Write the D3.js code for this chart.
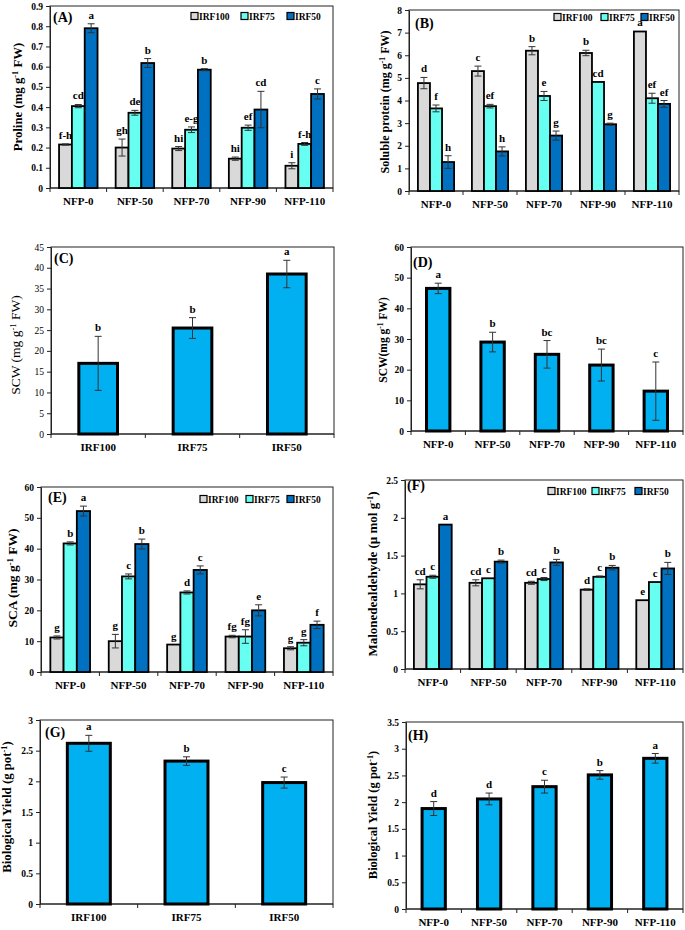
<!DOCTYPE html>
<html>
<head>
<meta charset="utf-8">
<script src="https://cdn.jsdelivr.net/npm/d3@7"></script>
<style>
  body { margin: 0; background: #fff; }
  svg { display: block; }
  text { font-family: "Liberation Serif", "Times New Roman", serif; }
</style>
</head>
<body>
<svg id="chart" width="685" height="930"></svg>
<script>
const nfp = ["NFP-0", "NFP-50", "NFP-70", "NFP-90", "NFP-110"];
const irf = ["IRF100", "IRF75", "IRF50"];
const irfColors = ["#d9d9d9", "#66fff2", "#0070c0"];
const singleColor = "#00b0f0";

// (A) proline, rows = IRF100, IRF75, IRF50
const prolineMean = [[0.215, 0.20, 0.195, 0.145, 0.11], [0.405, 0.372, 0.288, 0.298, 0.218], [0.79, 0.618, 0.585, 0.388, 0.465]];
const prolineErr = [[0.003, 0.042, 0.01, 0.008, 0.015], [0.008, 0.012, 0.014, 0.013, 0.007], [0.022, 0.022, 0.005, 0.09, 0.025]];
const prolineLet = [["f-h", "gh", "hi", "hi", "i"], ["cd", "de", "e-g", "ef", "f-h"], ["a", "b", "b", "cd", "c"]];

// (B) soluble protein
const proteinMean = [[4.77, 5.3, 6.2, 6.1, 7.05], [3.65, 3.75, 4.2, 4.82, 4.1], [1.28, 1.75, 2.45, 2.95, 3.85]];
const proteinErr = [[0.25, 0.22, 0.18, 0.12, 0], [0.15, 0.08, 0.2, 0, 0.22], [0.28, 0.2, 0.2, 0.05, 0.15]];
const proteinLet = [["d", "c", "b", "b", "a"], ["f", "ef", "e", "cd", "ef"], ["h", "h", "g", "g", "ef"]];

// (C) SCW by irrigation
const scwIrfMean = [[17, 25.5, 38.5]];
const scwIrfErr = [[6.5, 2.5, 3.3]];
const scwIrfLet = [["b", "b", "a"]];

// (D) SCW by nitrogen
const scwNfpMean = [[46.5, 29, 25, 21.5, 13]];
const scwNfpErr = [[1.7, 3.2, 4.5, 5.2, 9.5]];
const scwNfpLet = [["a", "b", "bc", "bc", "c"]];

// (E) SCA
const scaMean = [[11.2, 10, 8.9, 11.5, 7.7], [41.7, 31, 25.8, 11.5, 9.5], [52.2, 41.5, 33.1, 20, 15.3]];
const scaErr = [[0.5, 2.2, 0, 0.4, 0.5], [0.5, 0.8, 0.5, 2.2, 1], [1.6, 1.6, 1.3, 1.8, 1.2]];
const scaLet = [["g", "g", "g", "fg", "g"], ["b", "c", "d", "fg", "g"], ["a", "b", "c", "e", "f"]];

// (F) malonedealdehyde
const mdaMean = [[1.12, 1.14, 1.14, 1.05, 0.91], [1.22, 1.2, 1.19, 1.22, 1.15], [1.91, 1.42, 1.41, 1.34, 1.33]];
const mdaErr = [[0.06, 0.04, 0.02, 0.01, 0], [0.02, 0, 0.02, 0.01, 0], [0, 0.02, 0.04, 0.03, 0.08]];
const mdaLet = [["cd", "cd", "cd", "d", "e"], ["c", "c", "c", "c", "c"], ["a", "b", "b", "b", "b"]];

// (G) biological yield by irrigation
const byIrfMean = [[2.62, 2.33, 1.98]];
const byIrfErr = [[0.13, 0.07, 0.09]];
const byIrfLet = [["a", "b", "c"]];

// (H) biological yield by nitrogen
const byNfpMean = [[1.88, 2.06, 2.29, 2.51, 2.82]];
const byNfpErr = [[0.13, 0.11, 0.12, 0.08, 0.09]];
const byNfpLet = [["d", "d", "c", "b", "a"]];

const svg = d3.select("#chart");

function panel(o) {
  const g = svg.append("g");
  const nS = o.mean.length;
  const y = d3.scaleLinear().domain([0, o.yMax]).range([o.y0, o.y1]);
  const x0 = d3.scaleBand().domain(o.cats).range([o.xL, o.xR]);
  const bw = x0.bandwidth();
  const x1 = d3.scaleBand().domain(d3.range(nS))
    .range([bw * (0.5 - o.frac / 2), bw * (0.5 + o.frac / 2)]);

  // plot frame
  g.append("rect")
    .attr("x", o.xL).attr("y", o.y1)
    .attr("width", o.xR - o.xL).attr("height", o.y0 - o.y1)
    .attr("fill", "none").attr("stroke", "#222").attr("stroke-width", 1);

  // y axis
  const yAxis = d3.axisLeft(y)
    .tickValues(d3.range(0, o.yMax + o.step / 2, o.step))
    .tickSize(4).tickSizeOuter(0)
    .tickFormat(d => String(+d.toFixed(2)));
  g.append("g")
    .attr("transform", `translate(${o.xL},0)`)
    .call(yAxis)
    .call(a => a.select(".domain").attr("stroke", "#222"))
    .call(a => a.selectAll(".tick line").attr("stroke", "#222"))
    .call(a => a.selectAll(".tick text")
      .attr("font-family", "Liberation Serif")
      .attr("font-weight", o.tickWeight || "bold")
      .attr("font-size", 9.5).attr("fill", "#000").attr("x", -7));

  // x axis: baseline with ticks between categories
  g.append("line")
    .attr("x1", o.xL).attr("x2", o.xR)
    .attr("y1", y(0)).attr("y2", y(0))
    .attr("stroke", "#222");
  g.selectAll(".xtick")
    .data(d3.range(o.cats.length + 1))
    .join("line")
    .attr("x1", i => o.xL + i * x0.step()).attr("x2", i => o.xL + i * x0.step())
    .attr("y1", y(0)).attr("y2", y(0) + 4)
    .attr("stroke", "#222");
  g.selectAll(".xlab")
    .data(o.cats)
    .join("text")
    .attr("x", d => x0(d) + bw / 2)
    .attr("y", y(0) + 17)
    .attr("text-anchor", "middle")
    .attr("font-weight", "bold").attr("font-size", 11)
    .text(d => d);

  // bars
  const bars = [];
  o.mean.forEach((row, s) => row.forEach((v, i) => {
    bars.push({ s, cat: o.cats[i], v, e: o.err[s][i], l: o.lets[s][i] });
  }));
  const bx = d => x0(d.cat) + x1(d.s);
  g.selectAll(".bar")
    .data(bars)
    .join("rect")
    .attr("x", bx)
    .attr("y", d => y(d.v))
    .attr("width", x1.bandwidth())
    .attr("height", d => y(0) - y(d.v))
    .attr("fill", d => o.colors[d.s])
    .attr("stroke", "#000")
    .attr("stroke-width", o.barStroke);

  // error bars
  const eb = bars.filter(d => d.e > 0);
  const cx = d => bx(d) + x1.bandwidth() / 2;
  g.selectAll(".ev").data(eb).join("line")
    .attr("x1", cx).attr("x2", cx)
    .attr("y1", d => y(d.v - d.e)).attr("y2", d => y(d.v + d.e))
    .attr("stroke", "#333").attr("stroke-width", 1);
  ["-", "+"].forEach(sign => {
    g.selectAll(".ec" + (sign === "+" ? "p" : "m")).data(eb).join("line")
      .attr("x1", d => cx(d) - 3.5).attr("x2", d => cx(d) + 3.5)
      .attr("y1", d => y(sign === "+" ? d.v + d.e : d.v - d.e))
      .attr("y2", d => y(sign === "+" ? d.v + d.e : d.v - d.e))
      .attr("stroke", "#333").attr("stroke-width", 1);
  });

  // significance letters
  g.selectAll(".let").data(bars).join("text")
    .attr("x", cx)
    .attr("y", d => y(d.v + d.e) - 5)
    .attr("text-anchor", "middle")
    .attr("font-weight", "bold").attr("font-size", 11)
    .text(d => d.l);

  // panel label
  g.append("text")
    .attr("x", o.labX).attr("y", o.labY)
    .attr("font-weight", "bold").attr("font-size", 14)
    .text(o.label);

  // y title
  const t = g.append("text")
    .attr("transform", `translate(${o.tX},${o.tY}) rotate(-90)`)
    .attr("text-anchor", "middle")
    .attr("font-weight", o.titleWeight || "bold")
    .attr("font-size", o.tSize);
  t.append("tspan").text(o.title[0]);
  t.append("tspan").attr("dy", -4).attr("font-size", o.tSize * 0.65).text("-1");
  t.append("tspan").attr("dy", 4).text(o.title[1]);

  // legend
  if (o.legend) {
    o.legend.xs.forEach((lx, s) => {
      g.append("rect")
        .attr("x", lx).attr("y", o.legend.y - 3.5)
        .attr("width", 7).attr("height", 7)
        .attr("fill", o.colors[s]).attr("stroke", "#000").attr("stroke-width", 1.2);
      g.append("text")
        .attr("x", lx + 8).attr("y", o.legend.y + 3.5)
        .attr("font-weight", "bold").attr("font-size", 9.5)
        .text(irf[s]);
    });
  }
}

const single = [singleColor];

panel({ cats: nfp, mean: prolineMean, err: prolineErr, lets: prolineLet, colors: irfColors,
  xL: 50, xR: 333, y0: 188, y1: 6, yMax: 0.9, step: 0.1, frac: 0.68, barStroke: 1.8,
  label: "(A)", labX: 53, labY: 22, title: ["Proline (mg g", " FW)"], tX: 22, tY: 97, tSize: 12.8,
  legend: { xs: [191, 241, 287], y: 16 } });

panel({ cats: nfp, mean: proteinMean, err: proteinErr, lets: proteinLet, colors: irfColors,
  xL: 409, xR: 679, y0: 191, y1: 10, yMax: 8, step: 1, frac: 0.67, barStroke: 1.8,
  label: "(B)", labX: 415, labY: 28, title: ["Soluble protein (mg g", " FW)"], tX: 389, tY: 102, tSize: 12,
  legend: { xs: [554, 601, 641], y: 17 } });

panel({ cats: irf, mean: scwIrfMean, err: scwIrfErr, lets: scwIrfLet, colors: single,
  xL: 51, xR: 334, y0: 434, y1: 247, yMax: 45, step: 5, frac: 0.41, barStroke: 3,
  tickWeight: "normal", titleWeight: "normal",
  label: "(C)", labX: 54, labY: 263, title: ["SCW (mg g", " FW)"], tX: 20, tY: 345, tSize: 13.5 });

panel({ cats: nfp, mean: scwNfpMean, err: scwNfpErr, lets: scwNfpLet, colors: single,
  xL: 411, xR: 683, y0: 431, y1: 247, yMax: 60, step: 10, frac: 0.43, barStroke: 3,
  label: "(D)", labX: 413, labY: 267, title: ["SCW(mg g", " FW)"], tX: 387, tY: 340, tSize: 11.5 });

panel({ cats: nfp, mean: scaMean, err: scaErr, lets: scaLet, colors: irfColors,
  xL: 41, xR: 333, y0: 672, y1: 487, yMax: 60, step: 10, frac: 0.68, barStroke: 1.8,
  label: "(E)", labX: 48, labY: 502, title: ["SCA (mg g", " FW)"], tX: 17, tY: 578, tSize: 13.5,
  legend: { xs: [200, 246, 287], y: 499 } });

panel({ cats: nfp, mean: mdaMean, err: mdaErr, lets: mdaLet, colors: irfColors,
  xL: 405, xR: 683, y0: 669, y1: 480, yMax: 2.5, step: 0.5, frac: 0.68, barStroke: 1.8,
  label: "(F)", labX: 407, labY: 490, title: ["Malonedealdehyde (\u00b5 mol  g", ")"], tX: 377, tY: 574, tSize: 13,
  legend: { xs: [548, 592, 635], y: 491 } });

panel({ cats: irf, mean: byIrfMean, err: byIrfErr, lets: byIrfLet, colors: single,
  xL: 40, xR: 333, y0: 904, y1: 720, yMax: 3, step: 0.5, frac: 0.44, barStroke: 3,
  label: "(G)", labX: 45, labY: 737, title: ["Biological Yield (g pot", ")"], tX: 11, tY: 807, tSize: 12.8 });

panel({ cats: nfp, mean: byNfpMean, err: byNfpErr, lets: byNfpLet, colors: single,
  xL: 406, xR: 683, y0: 909, y1: 722, yMax: 3.5, step: 0.5, frac: 0.42, barStroke: 3,
  label: "(H)", labX: 408, labY: 740, title: ["Biological Yield (g pot", ")"], tX: 377, tY: 815, tSize: 12.5 });
</script>
</body>
</html>
